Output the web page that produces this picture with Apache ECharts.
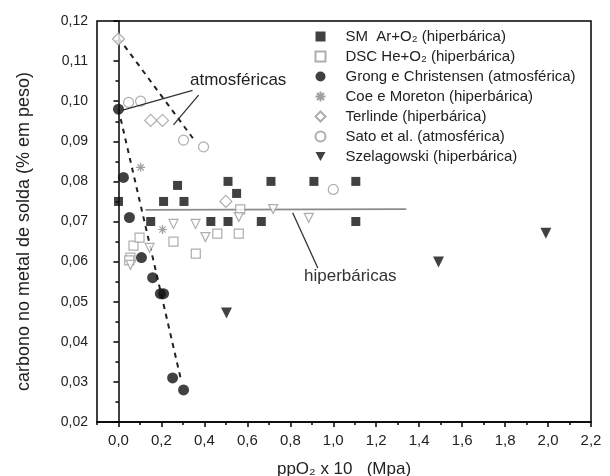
<!DOCTYPE html>
<html><head><meta charset="utf-8">
<script src="https://cdn.jsdelivr.net/npm/echarts@6/dist/echarts.min.js"></script>
<style>html,body{margin:0;padding:0;background:#fff}#c{width:610px;height:476px}</style>
</head><body><div id="c"></div>
<script>
// ---- tick labels ----
const xMajorTicks = [0, 0.2, 0.4, 0.6, 0.8, 1.0, 1.2, 1.4, 1.6, 1.8, 2.0, 2.2];
const xMinorTicks = [-0.1, 0.1, 0.3, 0.5, 0.7, 0.9, 1.1, 1.3, 1.5, 1.7, 1.9, 2.1];
const yRange = [0.02, 0.12];

// ---- series names ----
const seriesNames = [
  'SM  Ar+O₂ (hiperbárica)',
  'DSC He+O₂ (hiperbárica)',
  'Grong e Christensen (atmosférica)',
  'Coe e Moreton (hiperbárica)',
  'Terlinde (hiperbárica)',
  'Sato et al. (atmosférica)',
  'Szelagowski (hiperbárica)'
];

// ---- data [ppO2 x10, C %] ----
const smArO2 = [[0, 0.075], [0.15, 0.070], [0.21, 0.075], [0.275, 0.079], [0.305, 0.075], [0.43, 0.070],
  [0.51, 0.080], [0.51, 0.070], [0.55, 0.077], [0.665, 0.070], [0.71, 0.080], [0.91, 0.080], [1.105, 0.080], [1.105, 0.070]];
const dscHeO2 = [[0.056, 0.061], [0.05, 0.0603], [0.07, 0.064], [0.098, 0.066], [0.256, 0.065], [0.36, 0.062],
  [0.46, 0.067], [0.56, 0.067], [0.567, 0.073]];
const grong = [[0, 0.098], [0.023, 0.081], [0.051, 0.071], [0.107, 0.061], [0.159, 0.056], [0.195, 0.052],
  [0.21, 0.052], [0.252, 0.031], [0.303, 0.028]];
const coeMoreton = [[0.103, 0.0835], [0.205, 0.068]];
const terlinde = [[0, 0.1155], [0.15, 0.0952], [0.205, 0.0952], [0.5, 0.075]];
const sato = [[0.047, 0.0997], [0.103, 0.1], [0.303, 0.0903], [0.396, 0.0886], [1.0, 0.078]];
const szelagowski = [[0.503, 0.0472], [1.49, 0.0599], [1.99, 0.0671]];
const openTriangles = [[0.056, 0.0592], [0.145, 0.0634], [0.256, 0.0694], [0.359, 0.0694], [0.405, 0.0661],
  [0.56, 0.0711], [0.72, 0.0731], [0.886, 0.0709]];

// ---- annotation lines ----
const atmosTrendUpper = [[0, 0.1158], [0.35, 0.0905]];
const atmosTrendLower = [[0, 0.098], [0.289, 0.031]];
const hiperTrend = [[0.126, 0.0729], [1.34, 0.0731]];
const atmosPointer1 = [[0.345, 0.1027], [0.02, 0.0978]];
const atmosPointer2 = [[0.373, 0.1015], [0.256, 0.0941]];
const hiperPointer = [[0.928, 0.0584], [0.811, 0.0722]];
const annotationTexts = ['atmosféricas', 'hiperbáricas'];

const FONT = 'Liberation Sans, Arial, sans-serif';
const fmt = (v, d) => v.toFixed(d).replace('.', ',');

const dark = '#111';
const gray = '#9a9a9a';
const openStyle = { color: '#fff', borderColor: gray, borderWidth: 1.2 };
const starPath = 'path://M5,0L5,10M0,5L10,5M1.5,1.5L8.5,8.5M1.5,8.5L8.5,1.5';
const downTriPath = 'path://M0,0L10,0L5,9Z';
const legendIcons = ['rect', 'rect', 'circle', starPath, 'diamond', 'circle', downTriPath];

function pointer(pts, arrow) {
  return [{ coord: pts[0], symbol: 'none' }, { coord: pts[1], symbol: arrow ? 'arrow' : 'none' }];
}

const chart = echarts.init(document.getElementById('c'), null, { renderer: 'canvas' });
chart.setOption({
  animation: false,
  backgroundColor: '#fff',
  textStyle: { fontFamily: FONT },
  grid: { left: 97, right: 19, top: 21, bottom: 54, outerBoundsMode: 'none', containLabel: false,
    show: true, borderColor: '#000', borderWidth: 1.5, backgroundColor: 'transparent' },
  legend: {
    orient: 'vertical', left: 308, top: 24, itemWidth: 10, itemHeight: 10, itemGap: 5,
    data: seriesNames.map((n, i) => ({ name: n, icon: legendIcons[i] })),
    textStyle: { fontFamily: FONT, fontSize: 15, color: '#222', padding: [0, 0, 0, 15] },
    selectedMode: false
  },
  xAxis: [{
    type: 'value', min: -0.1, max: 2.2,
    name: 'ppO₂ x 10   (Mpa)', nameLocation: 'middle', nameGap: 39,
    nameTextStyle: { fontFamily: FONT, fontSize: 17, color: '#222' },
    axisLine: { show: true, lineStyle: { color: '#000', width: 1.5 } },
    axisTick: { show: true, customValues: xMajorTicks, length: 5, lineStyle: { color: '#000', width: 1.5 } },
    axisLabel: { customValues: xMajorTicks, formatter: v => fmt(v, 1), fontSize: 15, color: '#222', margin: 11, fontFamily: FONT },
    splitLine: { show: false }
  }, {
    type: 'value', min: -0.1, max: 2.2, position: 'bottom',
    axisLine: { show: false },
    axisTick: { show: true, customValues: xMinorTicks, length: 3, lineStyle: { color: '#000', width: 1.5 } },
    axisLabel: { show: false }, splitLine: { show: false }
  }],
  yAxis: {
    type: 'value', min: yRange[0], max: yRange[1], interval: 0.01,
    name: 'carbono no metal de solda (% em peso)', nameLocation: 'middle', nameGap: 64,
    nameTextStyle: { fontFamily: FONT, fontSize: 18, color: '#222', padding: [0, 20, 0, 0] },
    axisLine: { show: true, lineStyle: { color: '#000', width: 1.5 } },
    axisTick: { show: true, length: 5, lineStyle: { color: '#000', width: 1.5 } },
    minorTick: { show: true, splitNumber: 2, length: 3, lineStyle: { color: '#000', width: 1.5 } },
    axisLabel: { formatter: v => fmt(v, 2), fontSize: 14, color: '#222', margin: 9, fontFamily: FONT },
    splitLine: { show: false }
  },
  series: [
    { name: 'atmosTrendUpper', type: 'line', data: atmosTrendUpper, showSymbol: false, silent: true,
      lineStyle: { color: '#222', width: 2, type: [5, 5] }, z: 1 },
    { name: 'atmosTrendLower', type: 'line', data: atmosTrendLower, showSymbol: false, silent: true,
      lineStyle: { color: '#222', width: 2, type: [5, 5] }, z: 1 },
    { name: 'hiperTrend', type: 'line', data: hiperTrend, showSymbol: false, silent: true,
      lineStyle: { color: '#8a8a8a', width: 1.8 }, z: 1,
      markLine: {
        silent: true, symbolSize: [0, 8], label: { show: false }, animation: false,
        lineStyle: { type: 'solid', color: '#333', width: 1.3 },
        data: [pointer(atmosPointer1, false), pointer(atmosPointer2, true), pointer(hiperPointer, true)]
      } },
    { name: seriesNames[0], type: 'scatter', data: smArO2, symbol: 'rect', symbolSize: 9, itemStyle: { color: dark }, z: 5 },
    { name: seriesNames[1], type: 'scatter', data: dscHeO2, symbol: 'rect', symbolSize: 9, itemStyle: openStyle, z: 4 },
    { name: seriesNames[2], type: 'scatter', data: grong, symbol: 'circle', symbolSize: 11, itemStyle: { color: dark }, z: 5 },
    { name: seriesNames[3], type: 'scatter', data: coeMoreton, symbol: starPath,
      symbolSize: 9, itemStyle: { color: 'none', borderColor: '#888', borderWidth: 1.2 }, z: 4 },
    { name: seriesNames[4], type: 'scatter', data: terlinde, symbol: 'diamond', symbolSize: 12, itemStyle: openStyle, z: 4 },
    { name: seriesNames[5], type: 'scatter', data: sato, symbol: 'circle', symbolSize: 10, itemStyle: openStyle, z: 4 },
    { name: seriesNames[6], type: 'scatter', data: szelagowski, symbol: 'triangle', symbolRotate: 180, symbolSize: 11, itemStyle: { color: dark }, z: 5 },
    { name: 'open triangles', type: 'scatter', data: openTriangles, symbol: 'triangle', symbolRotate: 180, symbolSize: 9, itemStyle: openStyle, z: 4 }
  ],
  graphic: [
    { type: 'text', left: 190, top: 72, style: { text: annotationTexts[0], font: '17px ' + FONT, fill: '#222' }, z: 10 },
    { type: 'text', left: 304, top: 268, style: { text: annotationTexts[1], font: '17px ' + FONT, fill: '#333' }, z: 10 }
  ]
});
</script>
</body></html>
